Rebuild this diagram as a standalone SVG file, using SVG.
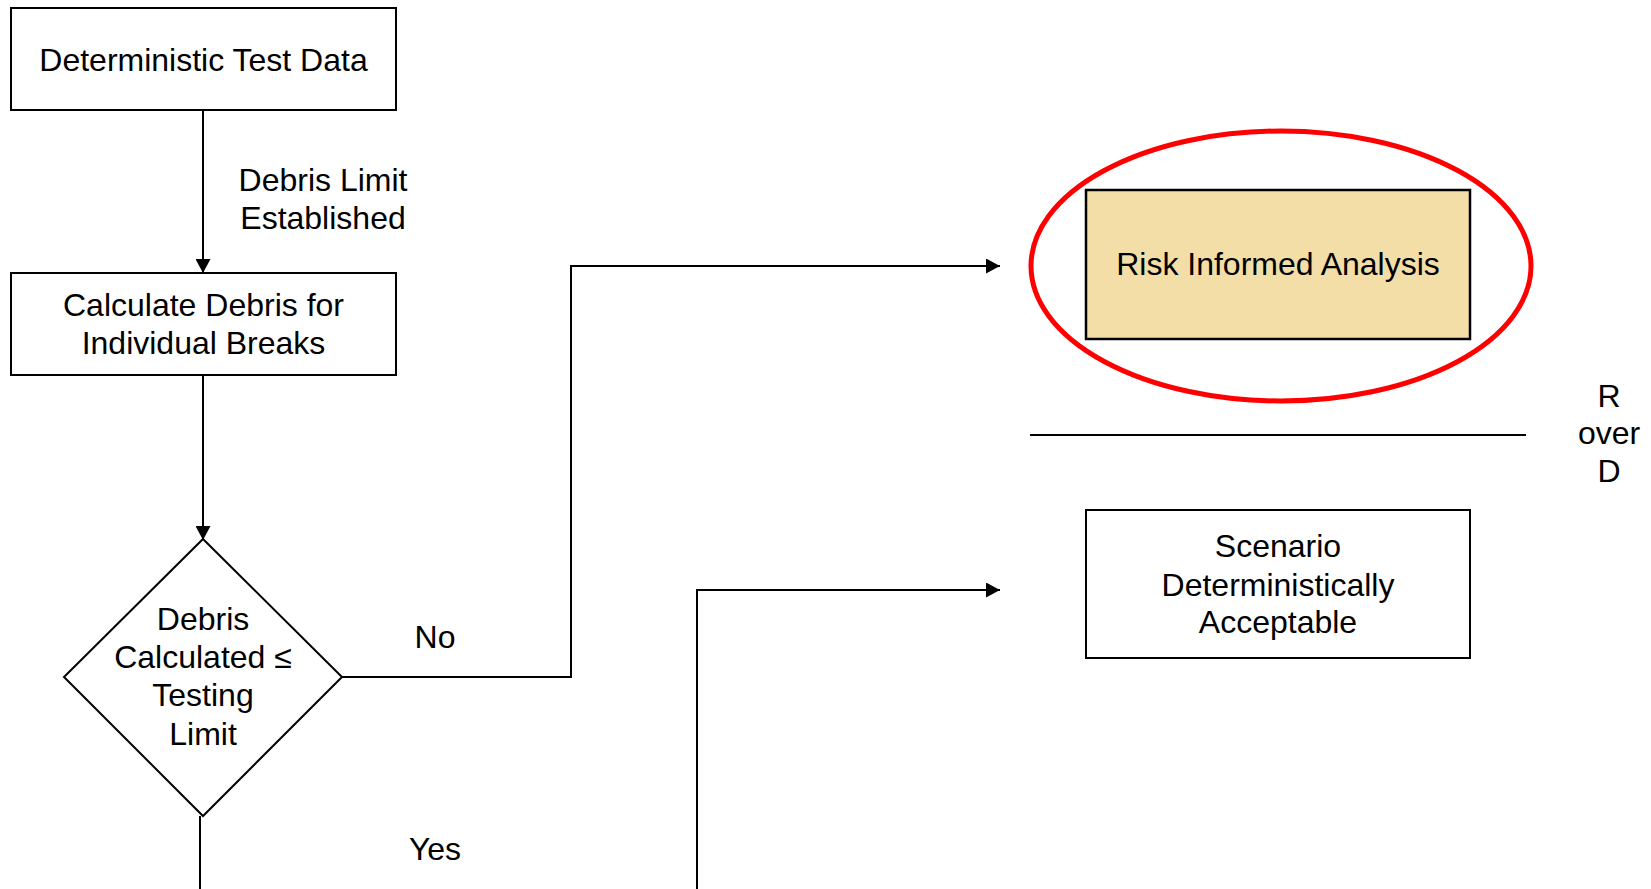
<svg xmlns="http://www.w3.org/2000/svg" width="1651" height="889" viewBox="0 0 1651 889">
  <style>
    .box { fill: #ffffff; stroke: #000000; stroke-width: 2; }
    .risk { fill: #F3DEA8; stroke: #000000; stroke-width: 2.5; }
    .lbl { font-family: "Liberation Sans", Arial, sans-serif; font-size: 32px; fill: #000000; text-anchor: middle; }
    .wire { fill: none; stroke: #000000; stroke-width: 2; }
    .ring { fill: none; stroke: #FF0000; stroke-width: 5; }
  </style>
  <defs>
    <marker id="arrow" viewBox="0 0 14 15" refX="14" refY="7.5" markerWidth="14" markerHeight="15" markerUnits="userSpaceOnUse" orient="auto">
      <path d="M0,0 L14,7.5 L0,15 Z" fill="#000000"/>
    </marker>
  </defs>
  <rect width="1651" height="889" fill="#ffffff"/>

  <!-- connectors -->
  <g id="connectors">
    <line class="wire" x1="203" y1="110" x2="203" y2="273" marker-end="url(#arrow)"/>
    <text class="lbl" x="323" y="191">Debris Limit</text>
    <text class="lbl" x="323" y="229">Established</text>
    <line class="wire" x1="203" y1="375" x2="203" y2="540" marker-end="url(#arrow)"/>
    <polyline class="wire" points="342,677 571,677 571,266 1000,266" marker-end="url(#arrow)"/>
    <text class="lbl" x="435" y="648">No</text>
    <line class="wire" x1="200" y1="816" x2="200" y2="889"/>
    <text class="lbl" x="435" y="860">Yes</text>
    <polyline class="wire" points="697,889 697,590 1000,590" marker-end="url(#arrow)"/>
  </g>

  <!-- nodes -->
  <g id="test-data">
    <rect class="box" x="11" y="8" width="385" height="102"/>
    <text class="lbl" x="203.5" y="71">Deterministic Test Data</text>
  </g>

  <g id="calc-debris">
    <rect class="box" x="11" y="273" width="385" height="102"/>
    <text class="lbl" x="203.5" y="316">Calculate Debris for</text>
    <text class="lbl" x="203.5" y="354">Individual Breaks</text>
  </g>

  <g id="decision">
    <polygon class="box" points="203,539 342,677 203,816 64,677"/>
    <text class="lbl" x="203" y="630">Debris</text>
    <text class="lbl" x="203" y="668">Calculated ≤</text>
    <text class="lbl" x="203" y="706">Testing</text>
    <text class="lbl" x="203" y="745">Limit</text>
  </g>

  <g id="risk-informed">
    <rect class="risk" x="1086" y="190" width="384" height="149"/>
    <text class="lbl" x="1278" y="275">Risk Informed Analysis</text>
    <ellipse class="ring" cx="1281" cy="266" rx="250" ry="135"/>
  </g>

  <g id="divider">
    <line class="wire" x1="1030" y1="435" x2="1526" y2="435"/>
    <text class="lbl" x="1609" y="407">R</text>
    <text class="lbl" x="1609" y="444">over</text>
    <text class="lbl" x="1609" y="482">D</text>
  </g>

  <g id="deterministic-ok">
    <rect class="box" x="1086" y="510" width="384" height="148"/>
    <text class="lbl" x="1278" y="557">Scenario</text>
    <text class="lbl" x="1278" y="596">Deterministically</text>
    <text class="lbl" x="1278" y="633">Acceptable</text>
  </g>
</svg>
